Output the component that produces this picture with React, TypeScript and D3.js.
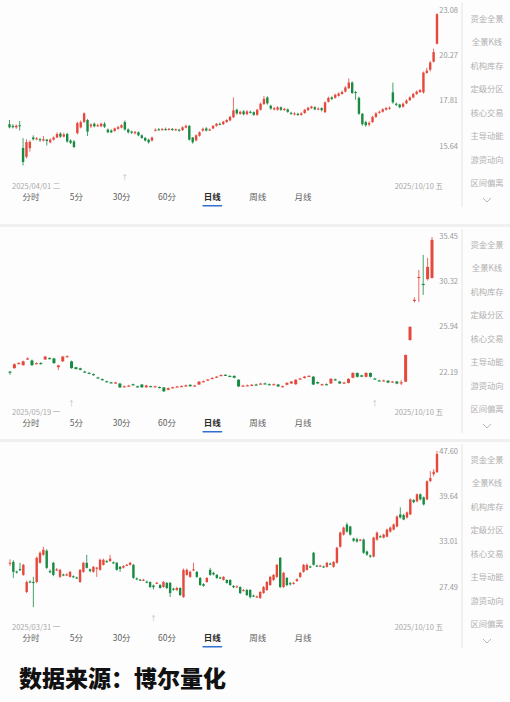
import React from "react";
import * as d3 from "d3";

type Candle = [number, number, number, number]; // open, close, high, low

const panel1Candles: Candle[] = [
  [16.60,16.45,16.80,16.40],[16.52,16.46,16.60,16.40],[16.45,16.53,16.58,16.38],[16.55,16.50,16.75,16.30],
  [15.51,14.90,15.95,14.75],[15.12,15.77,15.90,15.05],[15.50,15.78,15.85,15.35],[15.98,15.90,16.08,15.84],
  [15.92,15.94,16.00,15.85],[15.90,15.85,15.96,15.78],[15.84,15.90,16.05,15.80],[15.88,15.82,15.92,15.62],
  [15.76,15.88,15.94,15.72],[15.88,15.98,16.03,15.84],[15.98,16.14,16.22,15.95],[16.16,16.02,16.22,15.96],
  [16.02,16.12,16.20,15.98],[16.14,15.80,16.20,15.74],[15.84,15.74,15.90,15.68],[15.80,15.55,15.86,15.50],
  [16.18,16.65,16.72,16.12],[16.45,16.70,16.78,16.40],[16.70,17.12,17.17,16.66],[16.80,16.25,16.85,16.05],
  [16.50,16.58,16.65,16.42],[16.62,16.50,16.68,16.45],[16.52,16.55,16.62,16.48],[16.50,16.62,16.68,16.46],
  [16.62,16.48,16.70,16.42],[16.34,16.22,16.40,16.18],[16.30,16.22,16.36,16.18],[16.28,16.40,16.44,16.24],
  [16.38,16.46,16.52,16.34],[16.44,16.55,16.60,16.40],[16.70,16.35,16.78,16.30],[16.35,16.22,16.40,16.16],
  [16.25,16.20,16.30,16.14],[16.18,16.24,16.28,16.12],[16.22,16.08,16.26,16.04],[16.08,15.96,16.12,15.92],
  [15.96,15.84,16.00,15.80],[15.88,15.76,15.92,15.70],[15.84,15.98,16.02,15.80],[16.30,16.34,16.40,16.26],
  [16.36,16.34,16.42,16.30],[16.34,16.37,16.42,16.30],[16.37,16.35,16.44,16.30],[16.35,16.38,16.42,16.30],
  [16.38,16.33,16.42,16.28],[16.32,16.36,16.40,16.28],[16.34,16.30,16.38,16.25],[16.32,16.45,16.50,16.28],
  [16.44,16.52,16.58,16.40],[16.52,15.88,16.56,15.84],[15.98,15.76,16.00,15.70],[15.85,16.08,16.12,15.80],
  [16.06,16.22,16.26,16.02],[16.30,16.38,16.44,16.24],[16.40,16.30,16.46,16.26],[16.32,16.35,16.40,16.28],
  [16.40,16.52,16.56,16.36],[16.52,16.62,16.66,16.48],[16.62,16.60,16.68,16.55],[16.60,16.72,16.76,16.56],
  [16.70,16.80,16.84,16.66],[16.78,16.95,17.00,16.74],[16.93,17.27,17.92,16.90],[17.30,17.12,17.36,17.05],
  [17.10,17.20,17.25,17.05],[17.22,17.08,17.28,17.02],[17.08,17.22,17.28,17.04],[17.20,17.18,17.26,17.12],
  [17.18,17.05,17.22,17.00],[17.05,17.30,17.34,17.00],[17.30,17.60,17.66,17.26],[17.58,17.85,18.00,17.55],
  [17.92,17.62,17.98,17.55],[17.50,17.36,17.55,17.30],[17.32,17.38,17.44,17.26],[17.30,17.42,17.48,17.26],
  [17.42,17.30,17.46,17.24],[17.30,17.34,17.40,17.24],[17.32,17.20,17.36,17.15],[17.15,17.10,17.20,17.05],
  [17.08,17.12,17.18,17.02],[17.10,17.04,17.15,17.00],[17.05,17.12,17.18,17.00],[17.14,17.30,17.34,17.10],
  [17.28,17.40,17.44,17.24],[17.38,17.46,17.50,17.34],[17.42,17.32,17.48,17.28],[17.32,17.36,17.42,17.28],
  [17.38,17.28,17.42,17.22],[17.18,17.67,17.72,17.14],[17.70,17.90,17.96,17.66],[17.92,17.84,17.98,17.78],
  [17.90,18.05,18.12,17.86],[18.00,18.12,18.18,17.96],[18.10,18.20,18.28,18.06],[18.22,18.44,18.50,18.18],
  [18.40,18.70,18.92,18.36],[18.70,18.15,18.76,18.10],[18.20,18.16,18.26,17.80],[17.90,17.10,17.96,17.05],
  [17.10,16.60,17.14,16.52],[16.70,16.55,16.76,16.48],[16.58,16.66,16.74,16.50],[16.70,16.95,17.00,16.66],
  [16.95,17.12,17.18,16.90],[17.15,17.20,17.26,17.10],[17.20,17.32,17.38,17.16],[17.30,17.38,17.44,17.26],
  [17.36,17.40,17.46,17.30],[18.18,17.67,18.70,17.60],[17.60,17.55,17.66,17.48],[17.56,17.42,17.60,17.38],
  [17.45,17.60,17.66,17.40],[17.62,17.76,17.82,17.58],[17.78,17.92,17.98,17.74],[17.92,18.10,18.16,17.88],
  [18.10,18.22,18.28,18.05],[18.20,18.30,18.36,18.15],[18.18,19.24,19.30,18.12],[19.22,19.35,19.50,19.18],
  [19.40,19.80,19.90,19.30],[19.85,20.40,20.60,19.80],[20.90,22.74,22.80,20.85],
];

const panel2Candles: Candle[] = [
  [22.14,22.10,22.20,21.90],[22.41,22.71,22.78,22.36],[22.76,22.80,22.88,22.70],[22.64,22.94,23.00,22.60],
  [23.12,23.17,23.26,23.05],[23.01,22.64,23.08,22.58],[22.76,22.80,22.86,22.70],[22.80,22.76,22.88,22.70],
  [23.09,23.32,23.38,23.05],[23.20,23.16,23.26,23.10],[23.17,22.80,23.22,22.74],[22.48,22.62,22.68,22.26],
  [22.94,23.32,23.38,22.90],[23.30,23.35,23.42,23.26],[22.94,22.41,23.00,22.36],[22.48,22.34,22.52,22.30],
  [22.40,22.28,22.44,22.24],[22.15,22.10,22.20,22.05],[22.05,22.03,22.10,21.98],[21.95,21.88,22.00,21.84],
  [21.70,21.68,21.75,21.62],[21.58,21.50,21.62,21.46],[21.42,21.39,21.46,21.34],[21.34,21.30,21.38,21.26],
  [21.30,21.33,21.38,21.26],[21.25,20.97,21.30,20.93],[21.02,21.05,21.10,20.98],[21.06,21.10,21.16,21.02],
  [21.20,21.14,21.24,21.10],[21.05,21.02,21.10,20.98],[21.18,20.98,21.22,20.94],[20.98,21.11,21.16,20.94],
  [21.06,21.03,21.10,21.00],[21.02,21.05,21.10,20.98],[21.00,20.95,21.04,20.90],[20.97,20.69,21.00,20.64],
  [20.80,20.92,20.96,20.76],[20.94,20.98,21.02,20.90],[21.00,21.04,21.08,20.96],[21.04,21.06,21.12,21.00],
  [21.04,21.12,21.18,21.00],[21.16,21.06,21.20,21.02],[21.08,21.11,21.16,21.04],[21.18,21.39,21.44,21.14],
  [21.40,21.42,21.48,21.36],[21.50,21.55,21.60,21.46],[21.62,21.66,21.72,21.58],[21.72,21.76,21.80,21.68],
  [21.84,21.88,21.94,21.80],[21.90,21.88,21.95,21.84],[21.82,21.78,21.86,21.74],[21.82,21.68,21.86,21.64],
  [21.53,21.04,21.58,21.00],[21.08,21.10,21.16,21.04],[21.10,21.12,21.18,21.06],[21.14,21.16,21.22,21.10],
  [21.18,21.16,21.24,21.12],[21.22,21.25,21.30,21.18],[21.26,21.24,21.32,21.20],[21.20,21.18,21.26,21.14],
  [21.18,21.20,21.26,21.14],[21.18,21.04,21.22,21.00],[21.04,21.06,21.10,20.98],[21.16,21.30,21.34,21.12],
  [21.26,21.40,21.44,21.22],[21.20,21.53,21.58,21.16],[21.58,21.62,21.68,21.54],[21.66,21.76,21.82,21.62],
  [21.80,21.82,21.88,21.76],[21.76,21.18,21.82,21.14],[21.36,21.26,21.40,21.20],[21.18,21.20,21.24,21.10],
  [21.20,21.18,21.26,21.14],[21.26,21.60,21.66,21.22],[21.56,21.50,21.62,21.46],[21.40,21.26,21.44,21.22],
  [21.30,21.32,21.38,21.26],[21.30,21.60,21.64,21.26],[21.68,22.04,22.10,21.64],[22.04,21.75,22.08,21.70],
  [21.86,21.76,21.90,21.72],[21.75,22.04,22.10,21.70],[22.04,21.75,22.08,21.70],[21.62,21.60,21.68,21.56],
  [21.48,21.46,21.52,21.42],[21.46,21.48,21.54,21.42],[21.46,21.32,21.50,21.28],[21.38,21.40,21.44,21.34],
  [21.40,21.25,21.44,21.20],[21.30,21.34,21.50,21.14],[21.39,23.45,23.48,21.36],[24.69,25.83,25.90,24.62],
  [28.25,28.35,28.60,28.10],[30.58,30.68,31.43,28.15],[29.95,29.85,33.10,28.84],[30.45,31.76,32.76,30.30],
  [30.58,34.86,35.20,30.50],
];

const panel3Candles: Candle[] = [
  [30.10,30.20,30.60,29.80],[30.30,29.11,30.50,28.40],[29.15,29.05,29.25,28.90],[29.45,29.30,30.19,29.20],
  [28.75,29.94,30.05,28.65],[26.83,27.94,28.10,26.70],[28.00,27.90,28.10,27.80],[27.94,27.83,28.52,25.24],
  [27.94,30.81,30.95,27.80],[30.19,31.44,31.60,30.10],[31.18,31.83,32.22,31.05],[31.70,29.58,31.90,29.45],
  [29.20,29.05,29.40,28.95],[30.19,28.75,30.30,28.60],[29.30,29.40,29.55,29.20],[28.52,29.34,29.45,28.40],
  [28.80,28.72,28.90,28.60],[28.72,28.80,28.95,28.60],[28.52,29.11,29.20,28.45],[28.60,28.50,28.70,28.40],
  [28.45,28.40,28.55,28.30],[27.94,29.34,29.45,27.83],[29.11,30.19,30.30,29.00],[30.19,29.58,31.18,29.50],
  [29.40,29.20,29.50,29.05],[29.11,29.70,29.80,29.00],[29.55,29.60,29.70,28.52],[29.34,30.56,30.70,29.25],
  [29.94,30.56,30.70,29.85],[30.40,30.30,30.55,30.20],[30.40,30.70,31.18,30.30],[30.25,30.15,30.35,30.05],
  [30.19,29.34,30.30,29.25],[29.70,29.45,29.80,29.10],[29.60,29.80,29.90,29.50],[29.90,29.95,30.05,29.80],
  [29.94,30.19,30.30,29.85],[29.94,28.40,30.05,28.30],[28.35,28.25,28.45,28.15],[28.20,28.15,28.30,28.05],
  [28.15,28.20,28.30,28.05],[27.98,27.90,28.10,27.80],[27.94,27.38,28.00,27.25],[27.55,27.35,27.65,27.10],
  [27.80,27.85,27.95,27.70],[27.60,27.27,27.70,27.20],[27.38,27.94,28.05,27.30],[27.83,27.27,27.95,27.15],
  [27.83,26.72,27.95,26.29],[27.20,27.10,27.30,26.95],[27.05,27.27,27.40,26.95],[27.27,26.50,27.35,26.40],
  [26.29,29.34,29.50,26.20],[28.75,29.34,29.50,28.65],[28.52,29.11,29.25,28.40],[29.30,29.40,30.19,29.20],
  [29.11,28.52,29.20,28.40],[28.40,27.60,28.50,27.50],[27.70,27.50,27.80,27.40],[27.94,28.40,28.50,27.85],
  [29.34,28.75,29.58,28.65],[29.00,28.80,29.10,28.70],[28.75,28.40,28.85,28.30],[28.45,28.38,28.55,28.28],
  [28.17,28.52,28.60,28.10],[28.17,27.83,28.25,27.75],[28.17,27.60,28.25,27.50],[27.50,27.35,27.60,27.25],
  [27.40,27.45,27.55,27.30],[27.38,26.72,27.45,26.60],[27.00,27.05,27.15,26.90],[27.05,26.50,27.15,26.40],
  [27.05,26.29,27.15,26.15],[26.45,26.40,26.55,26.30],[26.30,26.35,26.45,26.20],[26.18,26.83,26.95,26.10],
  [26.72,27.38,27.50,26.65],[27.05,27.94,28.05,26.95],[27.60,28.52,28.65,27.50],[28.17,28.75,28.85,28.05],
  [28.52,29.94,30.05,28.40],[30.81,27.38,30.90,27.25],[27.38,28.99,29.10,27.25],[28.40,27.60,28.50,27.45],
  [27.80,27.70,27.95,27.55],[27.75,27.85,27.95,27.65],[28.05,28.25,28.35,27.95],[28.52,28.99,29.10,28.40],
  [29.11,29.94,30.05,29.00],[29.34,29.94,30.10,29.25],[29.75,29.65,29.85,29.55],[31.44,29.94,31.55,29.85],
  [29.85,29.80,29.95,29.70],[29.80,29.85,29.95,29.70],[29.75,29.70,29.85,29.60],[29.70,30.19,30.30,29.60],
  [30.10,30.05,30.20,29.95],[29.70,30.30,30.40,29.60],[30.19,32.09,32.20,30.10],[32.22,34.10,34.25,32.10],
  [33.83,34.80,34.95,33.70],[35.23,34.24,35.50,34.10],[34.95,33.83,35.05,33.70],[33.30,33.00,33.40,32.85],
  [33.20,32.90,33.40,32.75],[33.10,33.15,33.25,32.95],[33.15,31.44,33.30,31.30],[31.60,31.20,31.70,31.05],
  [31.10,30.95,31.20,30.80],[30.95,33.42,33.55,30.85],[33.15,34.10,34.25,33.00],[33.60,33.50,33.75,33.40],
  [33.42,33.83,33.95,33.30],[33.55,34.52,34.65,33.45],[34.24,34.80,34.95,34.10],[34.52,35.23,35.40,34.40],
  [34.95,36.40,36.55,34.85],[36.70,36.25,37.76,36.10],[36.60,35.95,36.80,35.85],[36.25,37.00,37.15,36.10],
  [36.70,39.00,39.15,36.60],[38.90,38.55,39.05,38.40],[38.69,39.80,39.95,38.55],[39.80,39.00,39.95,38.85],
  [39.32,38.22,39.45,38.05],[39.00,41.96,42.10,38.85],[42.00,42.50,43.70,41.80],[43.17,43.60,44.06,42.80],
  [43.52,46.83,47.40,43.40],
];

const panel1Ticks = [15.64, 17.81, 20.27, 23.08];
const panel2Ticks = [22.19, 25.94, 30.32, 35.45];
const panel3Ticks = [27.49, 33.01, 39.64, 47.6];

const panel1Dates = ["2025/04/01 二", "2025/10/10 五"];
const panel2Dates = ["2025/05/19 一", "2025/10/10 五"];
const panel3Dates = ["2025/03/31 一", "2025/10/10 五"];

const panel1Markers = [34];
const panel2Markers = [14, 83];
const panel3Markers = [43];

const periodTabs = ["分时", "5分", "30分", "60分", "日线", "周线", "月线"];
const activeTab = "日线";
const sideMenu = ["资金全景", "全景K线", "机构库存", "定级分区", "核心交易", "主导动能", "游资动向", "区间偏离"];
const sourceNote = "数据来源：博尔量化";

const UP = "#e5483c";
const DOWN = "#198a42";
const FONT = "'Noto Sans CJK SC', 'Noto Sans', sans-serif";

interface PanelProps {
  top: number;
  candles: Candle[];
  ticks: number[];
  dates: string[];
  markers: number[];
  xEnd: number;
  xStart: number;
  bodyW: number;
}

function Panel({ top, candles, ticks, dates, markers, xEnd, xStart, bodyW }: PanelProps) {
  const x = d3.scalePoint<number>().domain(d3.range(candles.length)).range([xStart, xEnd]);
  const y = d3
    .scaleLog()
    .domain([ticks[0], ticks[ticks.length - 1]])
    .range([top + 145, top + 9]);
  const tabX = d3.scalePoint<string>().domain(periodTabs).range([31, 303]);
  const menuY = d3.scalePoint<string>().domain(sideMenu).range([top + 18, top + 182]);

  return (
    <g>
      {candles.map((d, i) => {
        const [o, c, h, l] = d;
        const cx = x(i) as number;
        const color = c >= o ? UP : DOWN;
        const y0 = Math.min(y(o), y(c));
        const bh = Math.max(Math.abs(y(o) - y(c)), 1.1);
        return (
          <g key={i}>
            <line x1={cx} x2={cx} y1={y(h)} y2={y(l)} stroke={color} strokeWidth={0.8} />
            <rect x={cx - bodyW / 2} y={y0} width={bodyW} height={bh} fill={color} />
          </g>
        );
      })}
      {ticks.map((t) => (
        <text key={t} x={458} y={y(t)} textAnchor="end" dominantBaseline="central" fontSize={7.5} fill="#9a9a9a" fontFamily={FONT}>
          {t.toFixed(2)}
        </text>
      ))}
      {markers.map((m) => (
        <text key={m} x={x(m) as number} y={top + 180} textAnchor="middle" fontSize={7} fill="#b5b5b5" fontFamily={FONT}>
          ↑
        </text>
      ))}
      <text x={12} y={top + 189} fontSize={7.5} fill="#a8a8a8" fontFamily={FONT}>
        {dates[0]}
      </text>
      <text x={443} y={top + 189} textAnchor="end" fontSize={7.5} fill="#a8a8a8" fontFamily={FONT}>
        {dates[1]}
      </text>
      {periodTabs.map((t) => (
        <text
          key={t}
          x={tabX(t) as number}
          y={top + 200}
          textAnchor="middle"
          fontSize={8.5}
          fontWeight={t === activeTab ? 700 : 400}
          fill={t === activeTab ? "#2a2a2a" : "#5f5f5f"}
          fontFamily={FONT}
        >
          {t}
        </text>
      ))}
      <rect x={(tabX(activeTab) as number) - 10} y={top + 205} width={20} height={1.6} fill="#2f6fd0" rx={0.8} />
      <line x1={462} x2={462} y1={top + 3} y2={top + 207} stroke="#e4e4e4" strokeWidth={1} />
      {sideMenu.map((m) => (
        <text key={m} x={487} y={menuY(m) as number} textAnchor="middle" dominantBaseline="central" fontSize={8.3} fill="#b0b0b0" fontFamily={FONT}>
          {m}
        </text>
      ))}
      <path
        d={`M${483},${top + 198} L${487},${top + 202} L${491},${top + 198}`}
        fill="none"
        stroke="#b0b0b0"
        strokeWidth={0.9}
      />
    </g>
  );
}

export default function App() {
  return (
    <svg
      width={510}
      height={702}
      style={{ position: "absolute", left: 0, top: 0, background: "#ffffff" }}
    >
      <rect x={0} y={0} width={510} height={702} fill="#fdfdfd" />
      <Panel top={0} candles={panel1Candles} ticks={panel1Ticks} dates={panel1Dates} markers={panel1Markers} xStart={9.5} xEnd={437} bodyW={2.4} />
      <rect x={0} y={224} width={510} height={3} fill="#f0f0f0" />
      <Panel top={226} candles={panel2Candles} ticks={panel2Ticks} dates={panel2Dates} markers={panel2Markers} xStart={10} xEnd={432} bodyW={3} />
      <rect x={0} y={439} width={510} height={3} fill="#f0f0f0" />
      <Panel top={441} candles={panel3Candles} ticks={panel3Ticks} dates={panel3Dates} markers={panel3Markers} xStart={10} xEnd={437} bodyW={2.4} />
      <text x={19} y={687} fontSize={23} fontWeight={900} fill="#111" fontFamily={FONT}>
        {sourceNote}
      </text>
    </svg>
  );
}
